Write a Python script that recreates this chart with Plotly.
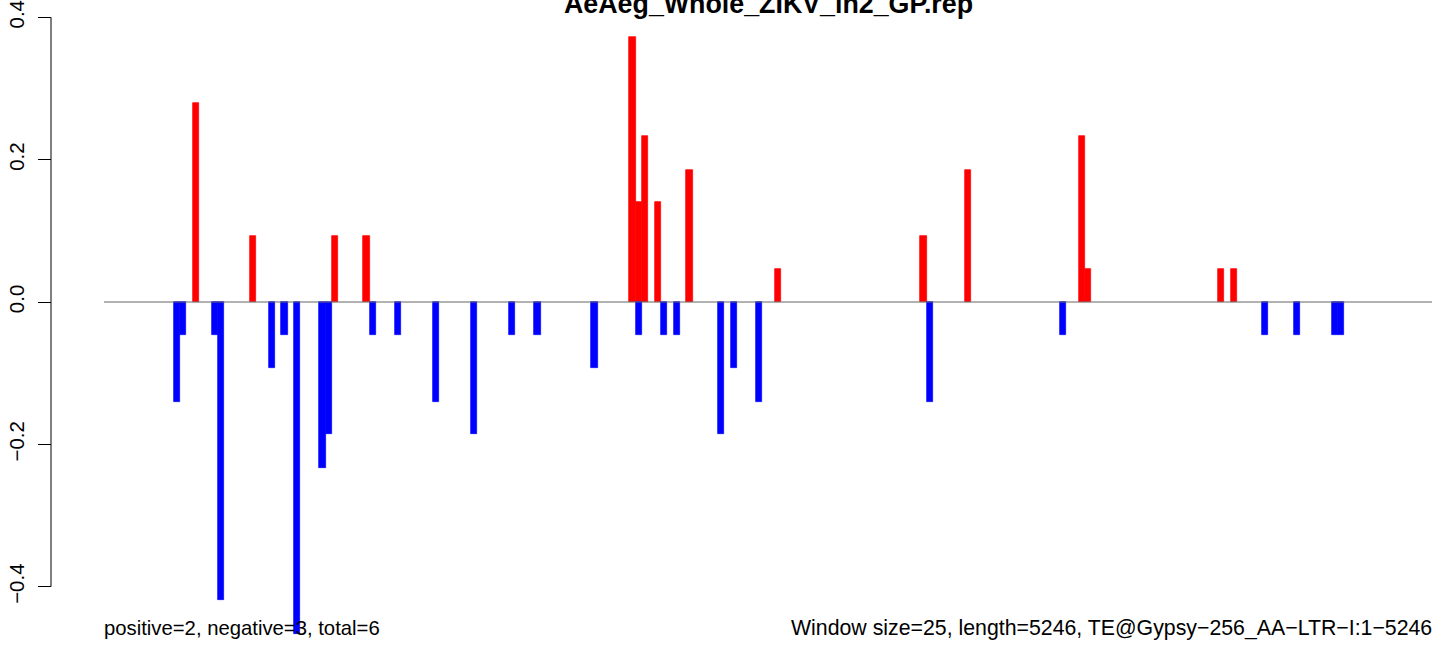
import plotly.graph_objects as go

# ---------------- data ----------------
TITLE = "AeAeg_Whole_ZIKV_ln2_GP.rep"
WINDOW = 25
LENGTH = 5246
LEFT_NOTE = "positive=2, negative=3, total=6"
RIGHT_NOTE = "Window size=25, length=5246, TE@Gypsy\u2212256_AA\u2212LTR\u2212I:1\u22125246"

pos_windows = [14, 23, 36, 41, 83, 84, 85, 87, 92, 106, 129, 136, 154, 155, 176, 178]
pos_values = [0.279, 0.093, 0.093, 0.093, 0.372, 0.140, 0.233, 0.140, 0.186, 0.047,
              0.093, 0.186, 0.233, 0.047, 0.047, 0.047]

neg_windows = [11, 12, 17, 18, 26, 28, 30, 34, 35, 42, 46, 52, 58, 64, 68, 77, 84, 88,
               90, 97, 99, 103, 130, 151, 183, 188, 194, 195]
neg_values = [-0.140, -0.047, -0.047, -0.419, -0.093, -0.047, -0.466, -0.233, -0.186,
              -0.047, -0.047, -0.140, -0.186, -0.047, -0.047, -0.093, -0.047, -0.047,
              -0.047, -0.186, -0.093, -0.140, -0.140, -0.047, -0.047, -0.047, -0.047,
              -0.047]

y_ticks = [-0.4, -0.2, 0.0, 0.2, 0.4]
y_tick_labels = ["\u22120.4", "\u22120.2", "0.0", "0.2", "0.4"]

# ---------------- layout geometry (pixels) ----------------
W, H = 1444, 646
PLOT_L, PLOT_R = 104, 1432
ZERO_PX = 302
Y_PER_UNIT = 711.75
AXIS_PX = 51
FONT = "Liberation Sans, Arial, Helvetica, sans-serif"

px_per_bp = (PLOT_R - PLOT_L) / LENGTH
x_range = [-PLOT_L / px_per_bp, LENGTH + (W - PLOT_R) / px_per_bp]
y_range = [-(H - ZERO_PX) / Y_PER_UNIT, ZERO_PX / Y_PER_UNIT]

fig = go.Figure()
fig.add_trace(go.Bar(
    x=[w * WINDOW + WINDOW / 2 for w in pos_windows], y=pos_values, width=WINDOW,
    marker=dict(color="#FF0000", line=dict(color="#FF0000", width=0.7)),
    showlegend=False, hoverinfo="x+y"))
fig.add_trace(go.Bar(
    x=[w * WINDOW + WINDOW / 2 for w in neg_windows], y=neg_values, width=WINDOW,
    marker=dict(color="#0000FF", line=dict(color="#0000FF", width=0.7)),
    showlegend=False, hoverinfo="x+y"))

# zero line across the sequence
fig.add_shape(type="line", xref="x", yref="y", x0=0, x1=LENGTH, y0=0, y1=0,
              line=dict(color="#666666", width=1.2), layer="above")
# y axis line between extreme ticks
fig.add_shape(type="line", xref="paper", yref="y", x0=AXIS_PX / W, x1=AXIS_PX / W,
              y0=y_ticks[0], y1=y_ticks[-1], line=dict(color="black", width=1))

fig.add_annotation(text="<b>" + TITLE + "</b>", xref="paper", yref="paper",
                   x=(PLOT_L + PLOT_R) / 2 / W, y=1 - 4 / H, xanchor="center",
                   yanchor="middle", showarrow=False,
                   font=dict(family=FONT, size=26.8, color="black"))
fig.add_annotation(text=LEFT_NOTE, xref="paper", yref="paper",
                   x=PLOT_L / W, y=1 - 628 / H, xanchor="left", yanchor="middle",
                   showarrow=False, borderpad=0, xshift=-1,
                   font=dict(family=FONT, size=20.3, color="black"))
fig.add_annotation(text=RIGHT_NOTE, xref="paper", yref="paper",
                   x=PLOT_R / W, y=1 - 628 / H, xanchor="right", yanchor="middle",
                   showarrow=False, borderpad=0, xshift=1,
                   font=dict(family=FONT, size=21.3, color="black"))

fig.update_layout(
    width=W, height=H, margin=dict(l=0, r=0, t=0, b=0),
    paper_bgcolor="white", plot_bgcolor="white", barmode="overlay", bargap=0,
    xaxis=dict(range=x_range, visible=False, domain=[0, 1]),
    yaxis=dict(range=y_range, anchor="free", position=AXIS_PX / W,
               tickmode="array", tickvals=y_ticks, ticktext=y_tick_labels,
               ticks="outside", ticklen=13, tickwidth=1, tickcolor="black",
               tickangle=-90, showgrid=False, zeroline=False, showline=False,
               automargin=False, ticklabeloverflow="allow", ticklabelstandoff=6,
               tickfont=dict(family=FONT, size=20.5, color="black")),
)

fig.write_html("out.html", config={"displayModeBar": False},
               post_script="document.body.style.margin='0px';")
